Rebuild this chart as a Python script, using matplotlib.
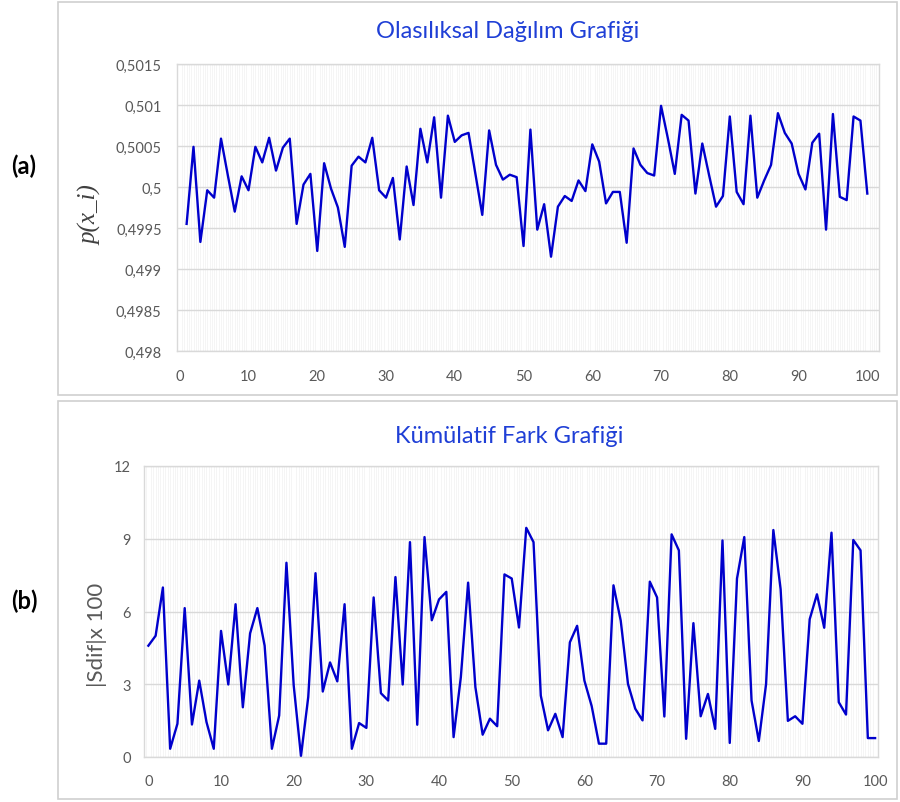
import matplotlib
matplotlib.use("Agg")
import matplotlib.pyplot as plt
from matplotlib.ticker import MultipleLocator, FuncFormatter
from matplotlib.patches import Rectangle
import numpy as np

plt.rcParams['font.family'] = ['Lato', 'DejaVu Sans']

# ---- Data ----
x_a = list(range(1, 101))
p_values = [
    0.49955, 0.50049, 0.49933, 0.49996, 0.49987, 0.50059, 0.50014, 0.49970, 0.50013, 0.49996,
    0.50049, 0.50030, 0.50060, 0.50020, 0.50048, 0.50059, 0.49955, 0.50003, 0.50016, 0.49922,
    0.50029, 0.49998, 0.49975, 0.49927, 0.50026, 0.50037, 0.50030, 0.50060, 0.49996, 0.49987,
    0.50011, 0.49936, 0.50025, 0.49978, 0.50071, 0.50030, 0.50085, 0.49987, 0.50087, 0.50055,
    0.50063, 0.50066, 0.50016, 0.49966, 0.50069, 0.50027, 0.50009, 0.50015, 0.50012, 0.49928,
    0.50070, 0.49948, 0.49979, 0.49915, 0.49976, 0.49989, 0.49983, 0.50008, 0.49995, 0.50052,
    0.50031, 0.49980, 0.49994, 0.49994, 0.49932, 0.50047, 0.50027, 0.50017, 0.50014, 0.50099,
    0.50059, 0.50016, 0.50088, 0.50081, 0.49992, 0.50053, 0.50014, 0.49976, 0.49989, 0.50086,
    0.49994, 0.49979, 0.50087, 0.49987, 0.50008, 0.50027, 0.50090, 0.50066, 0.50053, 0.50016,
    0.49997, 0.50054, 0.50065, 0.49948, 0.50089, 0.49988, 0.49984, 0.50086, 0.50081, 0.49992,
]

x_b = list(range(0, 101))
sdif_values = [
    4.59, 5.00, 6.99, 0.34, 1.37, 6.14, 1.34, 3.15, 1.44, 0.34,
    5.20, 2.99, 6.30, 2.05, 5.10, 6.14, 4.59, 0.34, 1.71, 8.01,
    2.95, 0.04, 2.47, 7.58, 2.70, 3.90, 3.12, 6.30, 0.34, 1.40,
    1.20, 6.58, 2.63, 2.33, 7.42, 2.99, 8.86, 1.33, 9.07, 5.64,
    6.50, 6.81, 0.82, 3.30, 7.19, 2.88, 0.92, 1.58, 1.27, 7.53,
    7.36, 5.34, 9.45, 8.86, 2.53, 1.10, 1.78, 0.82, 4.73, 5.41,
    3.15, 2.10, 0.55, 0.55, 7.08, 5.62, 3.01, 1.99, 1.51, 7.23,
    6.58, 1.67, 9.18, 8.52, 0.75, 5.52, 1.68, 2.60, 1.16, 8.93,
    0.58, 7.36, 9.07, 2.33, 0.66, 3.01, 9.36, 6.92, 1.49, 1.68,
    1.37, 5.68, 6.71, 5.33, 9.25, 2.26, 1.75, 8.95, 8.52, 0.78,
    0.78,
]

title_a = "Olasılıksal Dağılım Grafiği"
title_b = "Kümülatif Fark Grafiği"
ylabel_a = "p(x_i)"
ylabel_b = "|Sdif|x 100"
yticks_a = [0.498, 0.4985, 0.499, 0.4995, 0.5, 0.5005, 0.501, 0.5015]
yticks_b = [0, 3, 6, 9, 12]
xticks = list(range(0, 101, 10))

W, H = 900, 803
fig = plt.figure(figsize=(W / 100, H / 100), dpi=100)

line_color = '#0000CC'
title_color = '#1F3FD6'
tick_color = '#595959'
grid_color = '#D9D9D9'
minor_color = '#F1F1F1'

def fx(px):
    return px / W

def fy(py):
    return 1 - py / H

# panel borders
for (x0, y0, x1, y1) in [(58, 3, 897, 396), (58, 402, 897, 800)]:
    fig.patches.append(Rectangle((fx(x0), fy(y1)), fx(x1) - fx(x0), fy(y0) - fy(y1),
                                 transform=fig.transFigure, fill=False,
                                 edgecolor='#D0D0D0', linewidth=1.2))

def comma_fmt(v, pos):
    s = ('%.4f' % v).rstrip('0').rstrip('.')
    return s.replace('.', ',')

def style_axes(ax):
    for s in ax.spines.values():
        s.set_color(grid_color)
        s.set_linewidth(1.0)
    ax.tick_params(axis='both', which='both', length=0, colors=tick_color, labelsize=10.5)
    ax.xaxis.set_minor_locator(MultipleLocator(1 / 3))
    ax.grid(axis='y', which='major', color=grid_color, linewidth=1.0)
    ax.grid(axis='x', which='minor', color=minor_color, linewidth=0.5)
    ax.set_axisbelow(True)
    ax.set_xticks(xticks)

# ---- (a) ----
ax1 = fig.add_axes([fx(177), fy(352), fx(879) - fx(177), fy(65) - fy(352)])
ax1.plot(x_a, p_values, color=line_color, linewidth=1.7)
ax1.set_xlim(-0.4, 101.7)
ax1.set_ylim(0.498, 0.5015)
ax1.set_yticks(yticks_a)
ax1.yaxis.set_major_formatter(FuncFormatter(comma_fmt))
style_axes(ax1)
ax1.tick_params(axis='y', pad=11)
ax1.tick_params(axis='x', pad=13)
fig.text(fx(508), fy(32), title_a, color=title_color, fontsize=17, ha='center', va='center')
fig.text(fx(91), fy(215), ylabel_a, rotation=90, ha='center', va='center',
         family=['Liberation Serif', 'DejaVu Serif'], style='italic', fontsize=18, color='#404040')
fig.text(fx(24), fy(166), "(a)", fontsize=17, fontweight='bold', ha='center', va='center', color='black')

# ---- (b) ----
ax2 = fig.add_axes([fx(144), fy(758), fx(878) - fx(144), fy(467) - fy(758)])
ax2.plot(x_b, sdif_values, color=line_color, linewidth=1.7)
ax2.set_xlim(-0.6, 100.4)
ax2.set_ylim(0, 12)
ax2.set_yticks(yticks_b)
style_axes(ax2)
ax2.tick_params(axis='y', pad=9.5)
ax2.tick_params(axis='x', pad=12)
fig.text(fx(509), fy(437), title_b, color=title_color, fontsize=17, ha='center', va='center')
fig.text(fx(97), fy(635), ylabel_b, rotation=90, ha='center', va='center',
         fontsize=16, color=tick_color)
fig.text(fx(24), fy(601), "(b)", fontsize=17, fontweight='bold', ha='center', va='center', color='black')

fig.savefig("out.png", dpi=100)
